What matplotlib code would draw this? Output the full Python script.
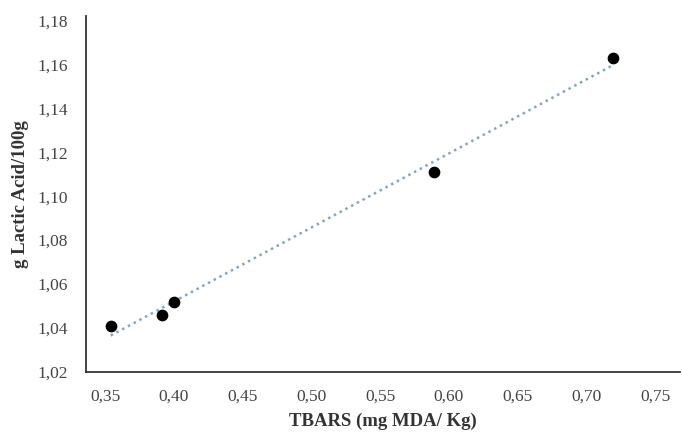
import numpy as np
import matplotlib.pyplot as plt
from matplotlib.ticker import FuncFormatter

tbars = [0.354, 0.391, 0.400, 0.589, 0.719]
lactic = [1.041, 1.046, 1.052, 1.111, 1.163]
xticks = [0.35, 0.40, 0.45, 0.50, 0.55, 0.60, 0.65, 0.70, 0.75]
yticks = [1.02, 1.04, 1.06, 1.08, 1.10, 1.12, 1.14, 1.16, 1.18]

plt.rcParams['font.family'] = ['Liberation Serif', 'DejaVu Serif']

fig = plt.figure(figsize=(6.82, 4.37), dpi=100)
ax = fig.add_axes([0.126, 0.149, 0.871, 0.814])

# linear trendline
k, b = np.polyfit(tbars, lactic, 1)
xs = np.array([min(tbars), max(tbars)])
ax.plot(xs, k * xs + b, linestyle=(0, (1, 1.6)), color='#8aa4b4', linewidth=1.8, zorder=1)
ax.scatter(tbars, lactic, s=55, color='black', zorder=2)

ax.set_xlim(0.336, 0.768)
ax.set_ylim(1.02, 1.182)
ax.set_xticks(xticks)
ax.set_yticks(yticks)
ax.xaxis.set_major_formatter(FuncFormatter(lambda v, p: f"{v:.2f}".replace('.', ',')))
ax.yaxis.set_major_formatter(FuncFormatter(lambda v, p: f"{v:.2f}".replace('.', ',')))
ax.tick_params(length=0, labelsize=12.5, colors='#444444', pad=12)
ax.tick_params(axis='y', pad=13)

for s in ['top', 'right']:
    ax.spines[s].set_visible(False)
for s in ['left', 'bottom']:
    ax.spines[s].set_color('#333333')
    ax.spines[s].set_linewidth(1.3)

ax.set_xlabel('TBARS (mg MDA/ Kg)', fontsize=13.5, fontweight='bold', color='#333333', labelpad=6)
ax.set_ylabel('g Lactic Acid/100g', fontsize=13.5, fontweight='bold', color='#333333', labelpad=6)

fig.savefig('out.png', dpi=100)
